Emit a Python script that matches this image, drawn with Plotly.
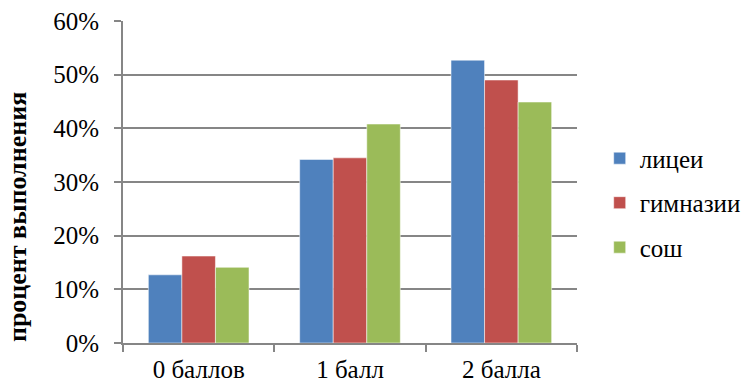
import plotly.graph_objects as go

categories = ["0 баллов", "1 балл", "2 балла"]
series_names = ["лицеи", "гимназии", "сош"]
licei = [0.127, 0.342, 0.527]
gimnazii = [0.162, 0.345, 0.490]
sosh = [0.141, 0.408, 0.449]
colors = ["#4F81BD", "#C0504D", "#9BBB59"]
y_ticks = [0, 0.1, 0.2, 0.3, 0.4, 0.5, 0.6]

FONT = "Liberation Serif"

fig = go.Figure()
for name, vals, col in zip(series_names, [licei, gimnazii, sosh], colors):
    fig.add_trace(go.Bar(
        name=name, x=categories, y=vals,
        marker=dict(color=col, line=dict(color="rgba(255,255,255,0.5)", width=1)),
        legendgroup=name,
    ))

fig.update_layout(
    width=747, height=384,
    margin=dict(l=123, r=170, t=21, b=41, autoexpand=False),
    paper_bgcolor="white", plot_bgcolor="white",
    barmode="group", bargap=0.335, bargroupgap=0,
    font=dict(family=FONT, size=25, color="black"),
    legend=dict(
        x=1.05, y=0.435, xanchor="left", yanchor="middle",
        traceorder="grouped", tracegroupgap=9,
        font=dict(family=FONT, size=25, color="black"),
        itemwidth=30,
    ),
    showlegend=True,
)

fig.update_xaxes(
    type="category", tickson="boundaries", automargin=False,
    showline=True, linecolor="#868686", linewidth=2,
    ticks="outside", ticklen=7, tickwidth=2, tickcolor="#868686",
    showgrid=False, ticklabelstandoff=3,
    tickfont=dict(family=FONT, size=25, color="black"),
)
fig.update_yaxes(
    range=[0, 0.6], tickvals=y_ticks, tickformat=".0%", automargin=False,
    showline=True, linecolor="#868686", linewidth=2,
    ticks="outside", ticklen=7, tickwidth=2, tickcolor="#868686",
    showgrid=True, gridcolor="#868686", gridwidth=2,
    zeroline=False, ticklabelstandoff=10,
    tickfont=dict(family=FONT, size=25, color="black"),
)

fig.add_annotation(
    text="<b>процент выполнения</b>", textangle=-90,
    xref="paper", yref="paper", x=-0.232, y=0.39,
    xanchor="center", yanchor="middle", showarrow=False,
    font=dict(family=FONT, size=26, color="black"),
)

fig.write_html("out.html")
